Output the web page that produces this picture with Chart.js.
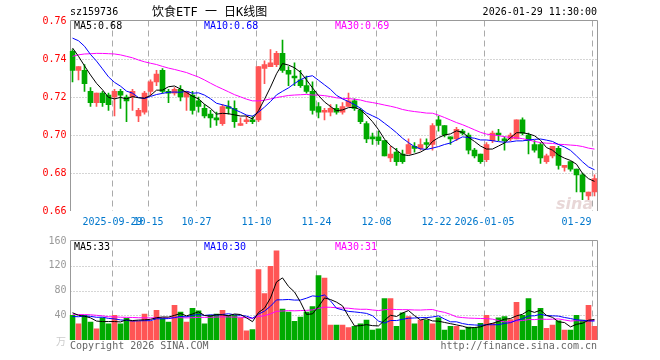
<!DOCTYPE html>
<html>
<head>
<meta charset="utf-8">
<script src="https://cdn.jsdelivr.net/npm/chart.js@4.4.1/dist/chart.umd.min.js"></script>
<style>
  body { margin: 0; background: #fff; }
  #wrap { position: relative; width: 660px; height: 360px; overflow: hidden;
          font-family: 'DejaVu Sans Mono', monospace; font-size: 10px; }
  canvas { position: absolute; left: 0; }
  .t { position: absolute; white-space: pre; line-height: 12px; }
</style>
</head>
<body>
<div id="wrap">
  <canvas id="kline" width="660" height="232" style="top:0"></canvas>
  <canvas id="vol" width="660" height="128" style="top:232px"></canvas>

  <div class="t" style="left:70px;top:6px;color:#000">sz159736</div>
  <div class="t" style="left:152px;top:4px;line-height:16px;font-size:12px;font-family:'DejaVu Sans Mono','Noto Sans CJK SC',monospace;color:#000">饮食ETF 一 日K线图</div>
  <div class="t" style="right:63px;top:6px;color:#000">2026-01-29 11:30:00</div>

  <div class="t" style="left:74px;top:20px;color:#000">MA5:0.68</div>
  <div class="t" style="left:204px;top:20px;color:#0000ff">MA10:0.68</div>
  <div class="t" style="left:335px;top:20px;color:#ff00ff">MA30:0.69</div>

  <div class="t" style="left:74px;top:241px;color:#000">MA5:33</div>
  <div class="t" style="left:204px;top:241px;color:#0000ff">MA10:30</div>
  <div class="t" style="left:335px;top:241px;color:#ff00ff">MA30:31</div>

  <div class="t" style="left:556px;top:194px;font:italic bold 16px 'DejaVu Sans',sans-serif;color:rgba(190,140,140,0.35)">sina</div>
  <div class="t" style="left:56px;top:335px;color:#ccc;font-family:'Noto Sans CJK SC',sans-serif">万</div>

  <div class="t" style="left:70px;top:340px;color:#666">Copyright 2026 SINA.COM</div>
  <div class="t" style="right:63px;top:340px;color:#666">http://finance.sina.com.cn</div>
</div>

<script>
// trading days shown (2025-09-18 .. 2026-01-29)
const tradeDays = [
  '09-18','09-19','09-22','09-23','09-24','09-25','09-26','09-29','09-30',
  '10-09','10-10','10-13','10-14','10-15','10-16','10-17','10-20','10-21','10-22','10-23','10-24','10-27','10-28','10-29','10-30','10-31',
  '11-03','11-04','11-05','11-06','11-07','11-10','11-11','11-12','11-13','11-14','11-17','11-18','11-19','11-20','11-21','11-24','11-25','11-26','11-27','11-28',
  '12-01','12-02','12-03','12-04','12-05','12-08','12-09','12-10','12-11','12-12','12-15','12-16','12-17','12-18','12-19','12-22','12-23','12-24','12-25','12-26','12-29','12-30','12-31',
  '01-05','01-06','01-07','01-08','01-09','01-12','01-13','01-14','01-15','01-16','01-19','01-20','01-21','01-22','01-23','01-26','01-27','01-28','01-29'
];

// date ticks on the axis
const axisMarks  = ['09-29', '10-15', '10-27', '11-10', '11-24', '12-08', '12-22', '01-05', '01-29'];
const axisLabels = ['2025-09-29', '10-15', '10-27', '11-10', '11-24', '12-08', '12-22', '2026-01-05', '01-29'];

const priceTicks = [0.66, 0.68, 0.70, 0.72, 0.74, 0.76];
const volTicks = [0, 40, 80, 120, 160];

const opens = [
  0.744,0.734,0.734,0.723,0.717,0.722,0.721,0.720,0.723,0.720,0.720,0.710,0.712,0.723,0.728,0.734,0.723,0.722,0.724,0.720,
  0.721,0.718,0.714,0.711,0.709,0.706,0.715,0.714,0.705,0.707,0.708,0.708,0.735,0.736,0.737,0.743,0.734,0.731,0.729,0.726,
  0.723,0.715,0.712,0.712,0.714,0.712,0.715,0.718,0.713,0.706,0.699,0.699,0.697,0.688,0.691,0.690,0.690,0.694,0.693,0.696,
  0.695,0.708,0.705,0.699,0.698,0.702,0.700,0.692,0.690,0.687,0.697,0.701,0.698,0.698,0.698,0.708,0.700,0.695,0.695,0.686,
  0.689,0.693,0.683,0.686,0.682,0.679,0.668,0.670
];
const highs = [
  0.745,0.736,0.737,0.725,0.722,0.723,0.722,0.724,0.724,0.721,0.724,0.714,0.723,0.729,0.734,0.735,0.724,0.725,0.726,0.723,
  0.723,0.720,0.716,0.713,0.712,0.716,0.718,0.718,0.709,0.710,0.710,0.736,0.739,0.745,0.744,0.750,0.736,0.738,0.734,0.731,
  0.728,0.717,0.714,0.716,0.716,0.717,0.722,0.719,0.714,0.707,0.701,0.702,0.697,0.694,0.693,0.692,0.698,0.696,0.698,0.698,
  0.706,0.710,0.705,0.699,0.704,0.703,0.701,0.693,0.690,0.696,0.702,0.703,0.699,0.701,0.708,0.709,0.701,0.697,0.696,0.690,
  0.694,0.694,0.684,0.686,0.682,0.680,0.670,0.679
];
const lows = [
  0.728,0.729,0.723,0.715,0.715,0.715,0.713,0.710,0.714,0.707,0.713,0.707,0.711,0.721,0.726,0.722,0.717,0.721,0.718,0.713,
  0.711,0.712,0.709,0.704,0.705,0.705,0.711,0.704,0.705,0.706,0.706,0.707,0.727,0.736,0.736,0.733,0.726,0.726,0.725,0.722,
  0.711,0.709,0.708,0.710,0.711,0.711,0.715,0.713,0.706,0.696,0.695,0.695,0.689,0.686,0.684,0.685,0.690,0.691,0.692,0.693,
  0.692,0.702,0.699,0.695,0.697,0.700,0.690,0.688,0.685,0.686,0.696,0.697,0.692,0.697,0.698,0.700,0.690,0.691,0.685,0.685,
  0.688,0.682,0.681,0.681,0.670,0.666,0.666,0.668
];
const closes = [
  0.734,0.736,0.727,0.717,0.722,0.717,0.716,0.723,0.721,0.718,0.723,0.713,0.722,0.728,0.732,0.723,0.722,0.724,0.720,0.723,
  0.713,0.715,0.710,0.709,0.708,0.715,0.714,0.707,0.706,0.708,0.707,0.736,0.737,0.738,0.743,0.734,0.732,0.730,0.726,0.723,
  0.713,0.712,0.713,0.714,0.712,0.715,0.718,0.714,0.707,0.698,0.698,0.697,0.689,0.690,0.686,0.686,0.695,0.693,0.695,0.695,
  0.705,0.705,0.700,0.698,0.703,0.701,0.692,0.689,0.686,0.695,0.701,0.700,0.697,0.700,0.708,0.701,0.697,0.692,0.688,0.689,
  0.694,0.684,0.684,0.682,0.679,0.670,0.670,0.677
];
// volume, 万手
const volumes = [
  40,26,40,29,18,36,26,40,26,35,30,30,42,30,48,36,29,56,45,29,
  51,47,26,40,42,48,40,40,36,15,17,114,75,119,144,50,45,30,37,45,
  54,104,100,24,24,24,20,22,26,32,16,18,67,67,22,44,38,26,32,32,
  26,36,16,22,22,16,21,20,27,40,27,36,38,33,61,40,67,22,51,19,
  24,31,16,16,40,32,56,22
];

// sessions before the window, only used to start the moving averages
const priorCloses = [
  0.712,0.714,0.713,0.716,0.718,0.720,0.728,0.735,0.741,0.746,0.748,0.750,0.751,0.752,0.753,
  0.749,0.745,0.744,0.748,0.749,0.750,0.756,0.760,0.757,0.758,0.758,0.752,0.741,0.744
];
const priorVolumes = [
  40,42,38,45,60,70,45,45,40,38,42,44,36,38,40,42,38,45,40,40,
  30,28,35,33,34,46,48,42,44
];

const upColor = '#ff5555';
const downColor = '#00aa00';
const monoFont = { family: 'DejaVu Sans Mono', size: 10 };

function movingAvg(prior, values, n) {
  const all = prior.concat(values);
  return values.map((_, i) => {
    const end = prior.length + i + 1;
    const win = all.slice(end - n, end);
    return win.reduce((s, v) => s + v, 0) / n;
  });
}

const candleColors = closes.map((c, i) => (c >= opens[i] ? upColor : downColor));

// grid, borders and date labels, drawn under the data
function framePlugin(ticks, withDates) {
  return {
    id: 'frame',
    beforeDatasetsDraw(chart) {
      const { ctx, chartArea: a, scales: { x, y } } = chart;
      const L = Math.round(a.left) + 0.5;
      const R = Math.round(a.right) - 0.5;
      const T = Math.round(a.top) - 0.5;
      const B = Math.round(a.bottom);
      ctx.save();
      ctx.lineWidth = 1;
      ctx.strokeStyle = '#aaa';

      ctx.setLineDash([1, 2]);
      ticks.slice(1, -1).forEach(v => {
        const py = Math.round(y.getPixelForValue(v)) + 0.5;
        ctx.beginPath(); ctx.moveTo(L, py); ctx.lineTo(R, py); ctx.stroke();
      });

      ctx.setLineDash([6, 4]);
      axisMarks.forEach(d => {
        const px = Math.floor(x.getPixelForValue(tradeDays.indexOf(d)) - 2) + 0.5;
        ctx.beginPath(); ctx.moveTo(px, T); ctx.lineTo(px, B); ctx.stroke();
      });

      ctx.setLineDash([]);
      ctx.strokeStyle = '#999';
      ctx.beginPath();
      ctx.moveTo(L, B); ctx.lineTo(L, T); ctx.lineTo(R, T); ctx.lineTo(R, B);
      ctx.stroke();

      if (withDates) {
        ctx.font = '10px "DejaVu Sans Mono"';
        ctx.fillStyle = '#0077cc';
        ctx.textBaseline = 'middle';
        axisMarks.forEach((d, k) => {
          const px = x.getPixelForValue(tradeDays.indexOf(d)) - 2;
          const txt = axisLabels[k];
          const w = ctx.measureText(txt).width;
          ctx.textAlign = (px + w / 2 > a.right - 3) ? 'right' : 'center';
          ctx.fillText(txt, ctx.textAlign === 'right' ? px - 1 : px, 222);
        });
      }
      ctx.restore();
    }
  };
}

function lineSet(data, color) {
  return {
    type: 'line', data, borderColor: color, borderWidth: 1,
    pointRadius: 0, tension: 0, fill: false, order: 0
  };
}

new Chart(document.getElementById('kline'), {
  type: 'bar',
  data: {
    labels: tradeDays,
    datasets: [
      lineSet(movingAvg(priorCloses, closes, 5), '#000000'),
      lineSet(movingAvg(priorCloses, closes, 10), '#0000ff'),
      lineSet(movingAvg(priorCloses, closes, 30), '#ff00ff'),
      {
        data: opens.map((o, i) => [o, closes[i]]),
        backgroundColor: candleColors, barThickness: 5, minBarLength: 1,
        grouped: false, order: 1
      },
      {
        data: lows.map((l, i) => [l, highs[i]]),
        backgroundColor: candleColors, barThickness: 1,
        grouped: false, order: 2
      }
    ]
  },
  options: {
    responsive: false,
    animation: false,
    layout: { padding: { top: 21, right: 62.5, bottom: 21, left: 0 } },
    plugins: { legend: { display: false }, tooltip: { enabled: false } },
    scales: {
      x: { display: false, offset: true },
      y: {
        min: 0.66, max: 0.76,
        afterFit(s) { s.width = 69.5; },
        grid: { display: false, drawTicks: false },
        border: { display: false },
        ticks: { stepSize: 0.02, color: '#ff0000', font: monoFont, padding: 3,
                 callback: v => v.toFixed(2) }
      }
    }
  },
  plugins: [framePlugin(priceTicks, true)]
});

new Chart(document.getElementById('vol'), {
  type: 'bar',
  data: {
    labels: tradeDays,
    datasets: [
      lineSet(movingAvg(priorVolumes, volumes, 5), '#000000'),
      lineSet(movingAvg(priorVolumes, volumes, 10), '#0000ff'),
      lineSet(movingAvg(priorVolumes, volumes, 30), '#ff00ff'),
      { data: volumes, backgroundColor: candleColors, barThickness: 5, order: 1 }
    ]
  },
  options: {
    responsive: false,
    animation: false,
    layout: { padding: { top: 8, right: 62.5, bottom: 20, left: 0 } },
    plugins: { legend: { display: false }, tooltip: { enabled: false } },
    scales: {
      x: { display: false, offset: true },
      y: {
        min: 0, max: 160,
        afterFit(s) { s.width = 69.5; },
        grid: { display: false, drawTicks: false },
        border: { display: false },
        ticks: { stepSize: 40, color: '#999', font: monoFont, padding: 3,
                 callback: v => (v === 0 ? '' : v) }
      }
    }
  },
  plugins: [framePlugin(volTicks, false)]
});
</script>
</body>
</html>
